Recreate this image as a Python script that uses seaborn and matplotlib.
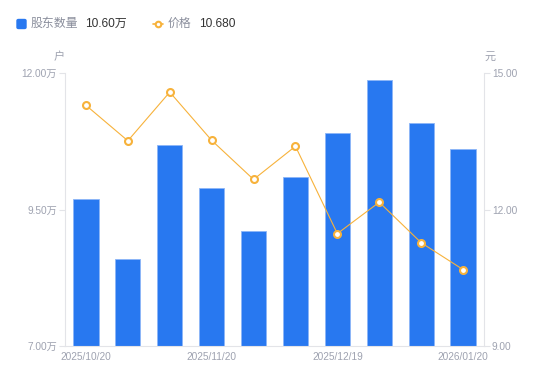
import matplotlib
matplotlib.use("Agg")
import matplotlib.pyplot as plt
from matplotlib.lines import Line2D
from matplotlib.patches import FancyBboxPatch
import seaborn as sns
import pandas as pd

# 数据
dates = ["2025/10/20", "2025/10/31", "2025/11/10", "2025/11/20", "2025/11/28",
         "2025/12/10", "2025/12/19", "2025/12/31", "2026/01/09", "2026/01/20"]
holders = [9.69, 8.59, 10.69, 9.89, 9.10, 10.09, 10.90, 11.88, 11.09, 10.60]  # 万户
price = [14.29, 13.51, 14.58, 13.52, 12.66, 13.39, 11.47, 12.16, 11.27, 10.68]  # 元
shown_ticks = [0, 3, 6, 9]

BLUE = "#2878F0"
ORANGE = "#F7B23B"
GRAY = "#9EA2B0"
AXIS = "#E3E4E8"

sns.set_style("white")
plt.rcParams["font.family"] = ["Liberation Sans", "Noto Sans CJK SC", "DejaVu Sans"]

df = pd.DataFrame({"idx": range(len(dates)), "date": dates,
                   "holders": holders, "price": price})

fig = plt.figure(figsize=(5.5, 3.81), dpi=100)
ax = fig.add_axes([65 / 550, 1 - 346 / 381, (484 - 65) / 550, (346 - 73) / 381])

sns.barplot(data=df, x="idx", y="holders", color=BLUE, width=0.6,
            edgecolor="#8DB6F7", linewidth=0.6, saturation=1, ax=ax)
ax.set_ylim(7, 12)
ax.set_xlim(-0.5, 9.5)
ax.set_yticks([7, 9.5, 12])
ax.set_yticklabels(["7.00万", "9.50万", "12.00万"])
ax.set_xticks(shown_ticks)
ax.set_xticklabels([dates[i] for i in shown_ticks])
ax.set_xlabel("")
ax.set_ylabel("")

ax2 = ax.twinx()
sns.lineplot(data=df, x="idx", y="price", color=ORANGE, linewidth=0.8,
             marker="o", markersize=5, markerfacecolor="white",
             markeredgecolor=ORANGE, markeredgewidth=1.5, ax=ax2)
ax2.set_ylim(9, 15)
ax2.set_yticks([9, 12, 15])
ax2.set_yticklabels(["9.00", "12.00", "15.00"])
ax2.set_ylabel("")
ax2.set_xlim(-0.5, 9.5)

for a in (ax, ax2):
    for s in a.spines.values():
        s.set_visible(False)
    a.tick_params(axis="both", colors=GRAY, labelsize=7.3, length=4.5, width=0.8,
                  color=AXIS, pad=1.2)
    a.tick_params(axis="x", length=0, pad=4)
ax.spines["left"].set_visible(True)
ax.spines["left"].set_color(AXIS)
ax.spines["bottom"].set_visible(True)
ax.spines["bottom"].set_color(AXIS)
ax2.spines["right"].set_visible(True)
ax2.spines["right"].set_color(AXIS)
for sp in ("left", "bottom", "right"):
    ax.spines[sp].set_linewidth(0.8)
    ax2.spines[sp].set_linewidth(0.8)

# 单位
fig.text(59 / 550, 1 - 57 / 381, "户", color=GRAY, fontsize=8, ha="center", va="center")
fig.text(490 / 550, 1 - 57 / 381, "元", color=GRAY, fontsize=8, ha="center", va="center")

# 图例
fig.patches.append(FancyBboxPatch((17 / 550, 1 - 28.5 / 381), 9 / 550, 9 / 381,
                                  boxstyle="round,pad=0,rounding_size=0.003",
                                  transform=fig.transFigure, color=BLUE, figure=fig))
fig.text(31 / 550, 1 - 24 / 381, "股东数量", color="#8A8E9C", fontsize=8.6, va="center")
fig.text(85 / 550, 1 - 24 / 381, "10.60万", color="#333333", fontsize=8.6, va="center")
fig.lines.append(Line2D([153 / 550, 163 / 550], [1 - 24 / 381] * 2, transform=fig.transFigure,
                        color=ORANGE, linewidth=1.2, figure=fig))
fig.lines.append(Line2D([158 / 550], [1 - 24 / 381], transform=fig.transFigure, marker="o",
                        markersize=4, markerfacecolor="white", markeredgecolor=ORANGE,
                        markeredgewidth=1.5, figure=fig))
fig.text(168 / 550, 1 - 24 / 381, "价格", color="#8A8E9C", fontsize=8.6, va="center")
fig.text(199 / 550, 1 - 24 / 381, "10.680", color="#333333", fontsize=8.6, va="center")

fig.savefig("out.png", dpi=100)
